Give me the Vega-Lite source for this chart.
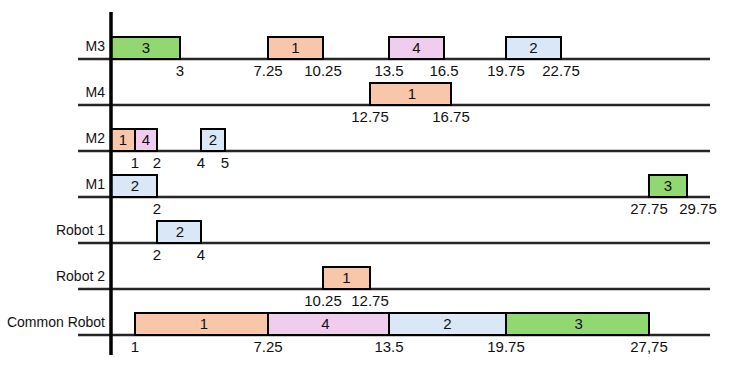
{
  "$schema": "https://vega.github.io/schema/vega-lite/v6.json",
  "autosize": {"type": "none"},
  "padding": {"left": 78, "top": 12, "right": 30, "bottom": 20},
  "width": 632,
  "height": 343,
  "background": "white",
  "config": {"view": {"stroke": null}, "font": "Liberation Sans"},
  "datasets": {
    "rows": [
      {"row": "M3"}, {"row": "M4"}, {"row": "M2"}, {"row": "M1"},
      {"row": "Robot 1"}, {"row": "Robot 2"}, {"row": "Common Robot"}
    ],
    "tasks": [
      {"row": "M3", "job": "3", "start": 0, "end": 3},
      {"row": "M3", "job": "1", "start": 7.25, "end": 10.25},
      {"row": "M3", "job": "4", "start": 13.5, "end": 16.5},
      {"row": "M3", "job": "2", "start": 19.75, "end": 22.75},
      {"row": "M4", "job": "1", "start": 12.75, "end": 16.75},
      {"row": "M2", "job": "1", "start": 0, "end": 1},
      {"row": "M2", "job": "4", "start": 1, "end": 2},
      {"row": "M2", "job": "2", "start": 4, "end": 5},
      {"row": "M1", "job": "2", "start": 0, "end": 2},
      {"row": "M1", "job": "3", "start": 27.75, "end": 29.75},
      {"row": "Robot 1", "job": "2", "start": 2, "end": 4},
      {"row": "Robot 2", "job": "1", "start": 10.25, "end": 12.75},
      {"row": "Common Robot", "job": "1", "start": 1, "end": 7.25},
      {"row": "Common Robot", "job": "4", "start": 7.25, "end": 13.5},
      {"row": "Common Robot", "job": "2", "start": 13.5, "end": 19.75},
      {"row": "Common Robot", "job": "3", "start": 19.75, "end": 27.75}
    ],
    "labels": [
      {"row": "M3", "value": 3, "label": "3"},
      {"row": "M3", "value": 7.25, "label": "7.25"},
      {"row": "M3", "value": 10.25, "label": "10.25"},
      {"row": "M3", "value": 13.5, "label": "13.5"},
      {"row": "M3", "value": 16.5, "label": "16.5"},
      {"row": "M3", "value": 19.75, "label": "19.75"},
      {"row": "M3", "value": 22.75, "label": "22.75"},
      {"row": "M4", "value": 12.75, "label": "12.75"},
      {"row": "M4", "value": 16.75, "label": "16.75"},
      {"row": "M2", "value": 1, "label": "1"},
      {"row": "M2", "value": 2, "label": "2"},
      {"row": "M2", "value": 4, "label": "4"},
      {"row": "M2", "value": 5, "label": "5"},
      {"row": "M1", "value": 2, "label": "2"},
      {"row": "M1", "value": 27.75, "label": "27.75"},
      {"row": "M1", "value": 29.75, "label": "29.75"},
      {"row": "Robot 1", "value": 2, "label": "2"},
      {"row": "Robot 1", "value": 4, "label": "4"},
      {"row": "Robot 2", "value": 10.25, "label": "10.25"},
      {"row": "Robot 2", "value": 12.75, "label": "12.75"},
      {"row": "Common Robot", "value": 1, "label": "1"},
      {"row": "Common Robot", "value": 7.25, "label": "7.25"},
      {"row": "Common Robot", "value": 13.5, "label": "13.5"},
      {"row": "Common Robot", "value": 19.75, "label": "19.75"},
      {"row": "Common Robot", "value": 27.75, "label": "27,75"}
    ]
  },
  "resolve": {"scale": {"x": "shared", "y": "shared"}},
  "layer": [
    {
      "data": {"name": "rows"},
      "mark": {"type": "rule", "color": "#262626", "strokeWidth": 2.5},
      "encoding": {
        "y": {"field": "row", "type": "nominal", "sort": null, "axis": null,
              "scale": {"type": "band", "range": [24, 346], "paddingInner": 0, "paddingOuter": 0,
                        "domain": ["M3", "M4", "M2", "M1", "Robot 1", "Robot 2", "Common Robot"]}}
      }
    },
    {
      "data": {"name": "tasks"},
      "mark": {"type": "bar", "height": 22, "yOffset": -11, "stroke": "black", "strokeWidth": 2},
      "encoding": {
        "y": {"field": "row", "type": "nominal", "sort": null, "axis": null},
        "x": {"field": "start", "type": "quantitative", "axis": null,
              "scale": {"nice": false, "zero": false,
                        "domain": [-1.5, 0, 1, 2, 3, 4, 5, 7.25, 10.25, 12.75, 13.5, 16.5, 16.75, 19.75, 22.75, 27.75, 29.75, 31],
                        "range": [0, 33, 57, 79, 102, 123, 147, 190, 245, 292, 311, 366, 373, 428, 483, 571, 609, 632]}},
        "x2": {"field": "end"},
        "color": {"field": "job", "type": "nominal", "legend": null,
                  "scale": {"domain": ["1", "2", "3", "4"], "range": ["#f8c7aa", "#d9e7f6", "#91d872", "#f0cdee"]}},
        "opacity": {"value": 1}
      }
    },
    {
      "data": {"name": "tasks"},
      "transform": [{"calculate": "(datum.start + datum.end) / 2", "as": "mid"}],
      "mark": {"type": "text", "font": "Liberation Sans", "fontSize": 15, "dy": -11, "baseline": "middle", "color": "#111"},
      "encoding": {
        "y": {"field": "row", "type": "nominal", "sort": null},
        "x": {"field": "mid", "type": "quantitative"},
        "text": {"field": "job"}
      }
    },
    {
      "data": {"name": "labels"},
      "transform": [{"filter": "datum.label != '29.75'"}],
      "mark": {"type": "text", "font": "Liberation Sans", "fontSize": 15, "dy": 12, "baseline": "middle", "color": "#111"},
      "encoding": {
        "y": {"field": "row", "type": "nominal", "sort": null},
        "x": {"field": "value", "type": "quantitative"},
        "text": {"field": "label"}
      }
    },
    {
      "data": {"name": "labels"},
      "transform": [{"filter": "datum.label == '29.75'"}],
      "mark": {"type": "text", "font": "Liberation Sans", "fontSize": 15, "dy": 12, "dx": 11, "baseline": "middle", "color": "#111"},
      "encoding": {
        "y": {"field": "row", "type": "nominal", "sort": null},
        "x": {"field": "value", "type": "quantitative"},
        "text": {"field": "label"}
      }
    },
    {
      "data": {"name": "rows"},
      "mark": {"type": "text", "font": "Liberation Sans", "fontSize": 14, "dy": -12, "dx": -6, "align": "right", "baseline": "middle", "color": "#111", "letterSpacing": -0.5},
      "encoding": {
        "y": {"field": "row", "type": "nominal", "sort": null},
        "x": {"datum": 0, "type": "quantitative"},
        "text": {"field": "row"}
      }
    },
    {
      "data": {"values": [{"t": 0}]},
      "mark": {"type": "rule", "color": "black", "strokeWidth": 3.5},
      "encoding": {
        "x": {"field": "t", "type": "quantitative"}
      }
    }
  ]
}
